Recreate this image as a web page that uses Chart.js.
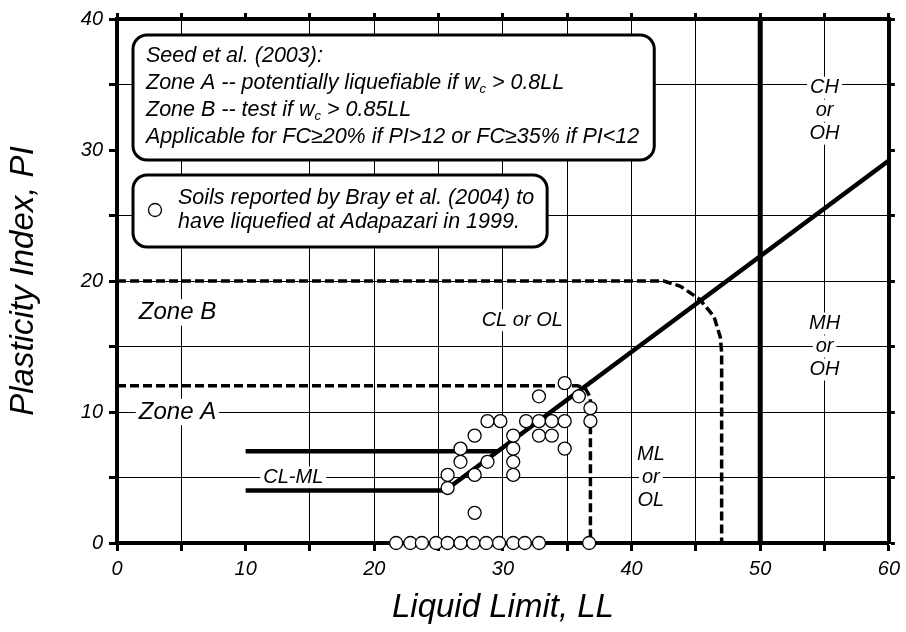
<!DOCTYPE html>
<html lang="en">
<head>
<meta charset="UTF-8">
<title>Plasticity chart - Adapazari soils</title>
<script src="https://cdn.jsdelivr.net/npm/chart.js"></script>
<style>
  body { margin: 0; background: #fff; }
  #wrap { width: 906px; height: 632px; }
</style>
</head>
<body>
<div id="wrap"><canvas id="plasticityChart" width="906" height="632"></canvas></div>
<script>
// soils reported by Bray et al. (2004)
const soilLL = [21.7, 22.8, 23.7, 24.8, 25.7, 26.7, 27.7, 28.7, 29.7, 30.8, 31.7, 32.8, 36.7,
                25.7, 25.7, 27.8, 30.8,
                26.7, 28.8, 30.8,
                26.7, 30.8, 34.8,
                27.8, 30.8, 32.8, 33.8,
                28.8, 29.8, 31.8, 32.8, 33.8, 34.8, 36.8,
                36.8, 32.8, 35.9, 34.8,
                27.8];
const soilPI = [0, 0, 0, 0, 0, 0, 0, 0, 0, 0, 0, 0, 0,
                4.2, 5.2, 5.2, 5.2,
                6.2, 6.2, 6.2,
                7.2, 7.2, 7.2,
                8.2, 8.2, 8.2, 8.2,
                9.3, 9.3, 9.3, 9.3, 9.3, 9.3, 9.3,
                10.3, 11.2, 11.2, 12.2,
                2.3];

// Casagrande chart lines
const aLineLL = [10, 25.5, 60];
const aLinePI = [4, 4, 29.2];
const clmlLL = [10, 29.6];
const clmlPI = [7, 7];
const llFiftyLL = [50, 50];
const llFiftyPI = [0, 40];

// Seed et al. (2003) zone limits
const zoneBLL = [0, 42.5, 43.8, 45.3, 46.4, 46.9, 47, 47];
const zoneBPI = [20, 20, 19.6, 18.6, 17.3, 15.7, 14.5, 0];
const zoneALL = [0, 35.8, 36.4, 36.8, 36.8];
const zoneAPI = [12, 12, 11.8, 11.1, 0];

const xMin = 0, xMax = 60, yMin = 0, yMax = 40;
const hiddenX = [10];
const hiddenY = [30];

const pts = (xs, ys) => xs.map((v, i) => ({x: v, y: ys[i]}));
const FONT = '"Liberation Sans", Arial, sans-serif';

function textAt(ctx, str, px, py, size, bg) {
    ctx.font = 'italic ' + size + 'px ' + FONT;
    ctx.textAlign = 'center';
    ctx.textBaseline = 'middle';
    const w = ctx.measureText(str).width;
    if (bg) {
        ctx.fillStyle = '#fff';
        ctx.fillRect(px - w / 2 - 3, py - size * 0.55, w + 6, size * 1.1);
    }
    ctx.fillStyle = '#000';
    ctx.fillText(str, px, py);
}

// line of text with subscript parts
function runs(ctx, parts, px, py, size, measureOnly) {
    let cx = px;
    ctx.textAlign = 'left';
    ctx.textBaseline = 'middle';
    ctx.fillStyle = '#000';
    parts.forEach(p => {
        const s = p.sub ? Math.round(size * 0.62) : size;
        ctx.font = 'italic ' + s + 'px ' + FONT;
        if (!measureOnly) ctx.fillText(p.t, cx, py + (p.sub ? size * 0.3 : 0));
        cx += ctx.measureText(p.t).width;
    });
    return cx - px;
}

function roundBox(ctx, l, t, w, h) {
    ctx.beginPath();
    ctx.roundRect(l, t, w, h, 14);
    ctx.fillStyle = '#fff';
    ctx.fill();
    ctx.lineWidth = 3;
    ctx.strokeStyle = '#000';
    ctx.stroke();
}

const notes = {
    id: 'notes',
    beforeDatasetsDraw(chart) {
        const ctx = chart.ctx;
        const x = chart.scales.x, y = chart.scales.y;
        ctx.save();

        textAt(ctx, 'Zone B', x.getPixelForValue(4.7), y.getPixelForValue(17.6), 24, true);
        textAt(ctx, 'Zone A', x.getPixelForValue(4.7), y.getPixelForValue(10), 24, true);
        textAt(ctx, 'CL-ML', x.getPixelForValue(13.7), y.getPixelForValue(5), 20, true);
        textAt(ctx, 'CL or OL', x.getPixelForValue(31.5), y.getPixelForValue(17), 20, true);

        const stack = (lines, v, yc) => {
            lines.forEach((s, i) => textAt(ctx, s, x.getPixelForValue(v),
                y.getPixelForValue(yc) + (i - 1) * 23, 20, true));
        };
        stack(['ML', 'or', 'OL'], 41.5, 5);
        stack(['MH', 'or', 'OH'], 55, 15);
        stack(['CH', 'or', 'OH'], 55, 33);

        // Seed et al. box
        const size = 21.5;
        const lines1 = [
            [{t: 'Seed et al. (2003):'}],
            [{t: 'Zone A -- potentially liquefiable if w'}, {t: 'c', sub: true}, {t: ' > 0.8LL'}],
            [{t: 'Zone B -- test if w'}, {t: 'c', sub: true}, {t: ' > 0.85LL'}],
            [{t: 'Applicable for FC\u226520% if PI>12 or FC\u226535% if PI<12'}]
        ];
        const l1 = chart.chartArea.left + 16;
        const w1 = Math.max(...lines1.map(p => runs(ctx, p, 0, 0, size, true))) + 28;
        roundBox(ctx, l1, 35, w1, 125);
        lines1.forEach((p, i) => runs(ctx, p, l1 + 13, 56 + i * 27, size));

        // legend box
        const lines2 = ['Soils reported by Bray et al. (2004) to', 'have liquefied at Adapazari in 1999.'];
        const w2 = Math.max(...lines2.map(s => runs(ctx, [{t: s}], 0, 0, size, true))) + 58;
        roundBox(ctx, l1, 175, w2, 72);
        ctx.beginPath();
        ctx.arc(l1 + 22, 210, 6.5, 0, Math.PI * 2);
        ctx.fillStyle = '#fff';
        ctx.fill();
        ctx.lineWidth = 1.3;
        ctx.strokeStyle = '#000';
        ctx.stroke();
        lines2.forEach((s, i) => runs(ctx, [{t: s}], l1 + 45, 198 + i * 24, size));

        ctx.restore();
    }
};

const tickFont = {family: FONT, size: 20, style: 'italic'};
const titleFont = {family: FONT, size: 33, style: 'italic'};

function gridColor(hidden) {
    return c => (c.tick && hidden.includes(c.tick.value)) ? 'rgba(0,0,0,0)' : '#000';
}

const lineSet = (xs, ys, width, dash, order) => ({
    data: pts(xs, ys),
    showLine: true,
    borderColor: '#000',
    borderWidth: width,
    borderDash: dash,
    pointRadius: 0,
    fill: false,
    tension: 0,
    order: order
});

new Chart(document.getElementById('plasticityChart'), {
    type: 'scatter',
    data: {
        datasets: [
            {
                label: 'Soils reported by Bray et al. (2004)',
                data: pts(soilLL, soilPI),
                pointStyle: 'circle',
                pointRadius: 6.5,
                pointBackgroundColor: '#fff',
                pointBorderColor: '#000',
                pointBorderWidth: 1.3,
                clip: false,
                order: 0
            },
            lineSet(aLineLL, aLinePI, 4.5, [], 1),
            lineSet(clmlLL, clmlPI, 4.5, [], 1),
            lineSet(llFiftyLL, llFiftyPI, 5, [], 1),
            lineSet(zoneBLL, zoneBPI, 3.5, [9, 4], 2),
            lineSet(zoneALL, zoneAPI, 3.5, [9, 4], 2)
        ]
    },
    options: {
        responsive: false,
        animation: false,
        layout: {padding: 0},
        plugins: {legend: {display: false}, tooltip: {enabled: false}},
        scales: {
            x: {
                type: 'linear', position: 'bottom', min: xMin, max: xMax,
                afterFit: s => { s.height = 89; },
                ticks: {stepSize: 5, font: tickFont, color: '#000', padding: 6,
                        maxRotation: 0, callback: v => v % 10 === 0 ? v : ''},
                grid: {color: gridColor(hiddenX), lineWidth: 1, tickLength: 8,
                       tickWidth: 3, tickColor: '#000'},
                border: {color: '#000', width: 4},
                title: {display: true, text: 'Liquid Limit, LL', font: titleFont,
                        color: '#000', padding: {top: 0}}
            },
            y: {
                type: 'linear', position: 'left', min: yMin, max: yMax,
                afterFit: s => { s.width = 117; },
                ticks: {stepSize: 5, font: tickFont, color: '#000', padding: 6,
                        callback: v => v % 10 === 0 ? v : ''},
                grid: {color: gridColor(hiddenY), lineWidth: 1, tickLength: 8,
                       tickWidth: 3, tickColor: '#000'},
                border: {color: '#000', width: 4},
                title: {display: true, text: 'Plasticity Index, PI', font: titleFont,
                        color: '#000', padding: {bottom: 0}}
            },
            x2: {
                type: 'linear', position: 'top', min: xMin, max: xMax,
                afterFit: s => { s.height = 19; },
                ticks: {stepSize: 5, display: false},
                grid: {drawOnChartArea: false, tickLength: 6, tickWidth: 3, tickColor: '#000'},
                border: {color: '#000', width: 4}
            },
            y2: {
                type: 'linear', position: 'right', min: yMin, max: yMax,
                afterFit: s => { s.width = 15; },
                ticks: {stepSize: 5, display: false},
                grid: {drawOnChartArea: false, tickLength: 6, tickWidth: 3, tickColor: '#000'},
                border: {color: '#000', width: 4}
            }
        }
    },
    plugins: [notes]
});
</script>
</body>
</html>
